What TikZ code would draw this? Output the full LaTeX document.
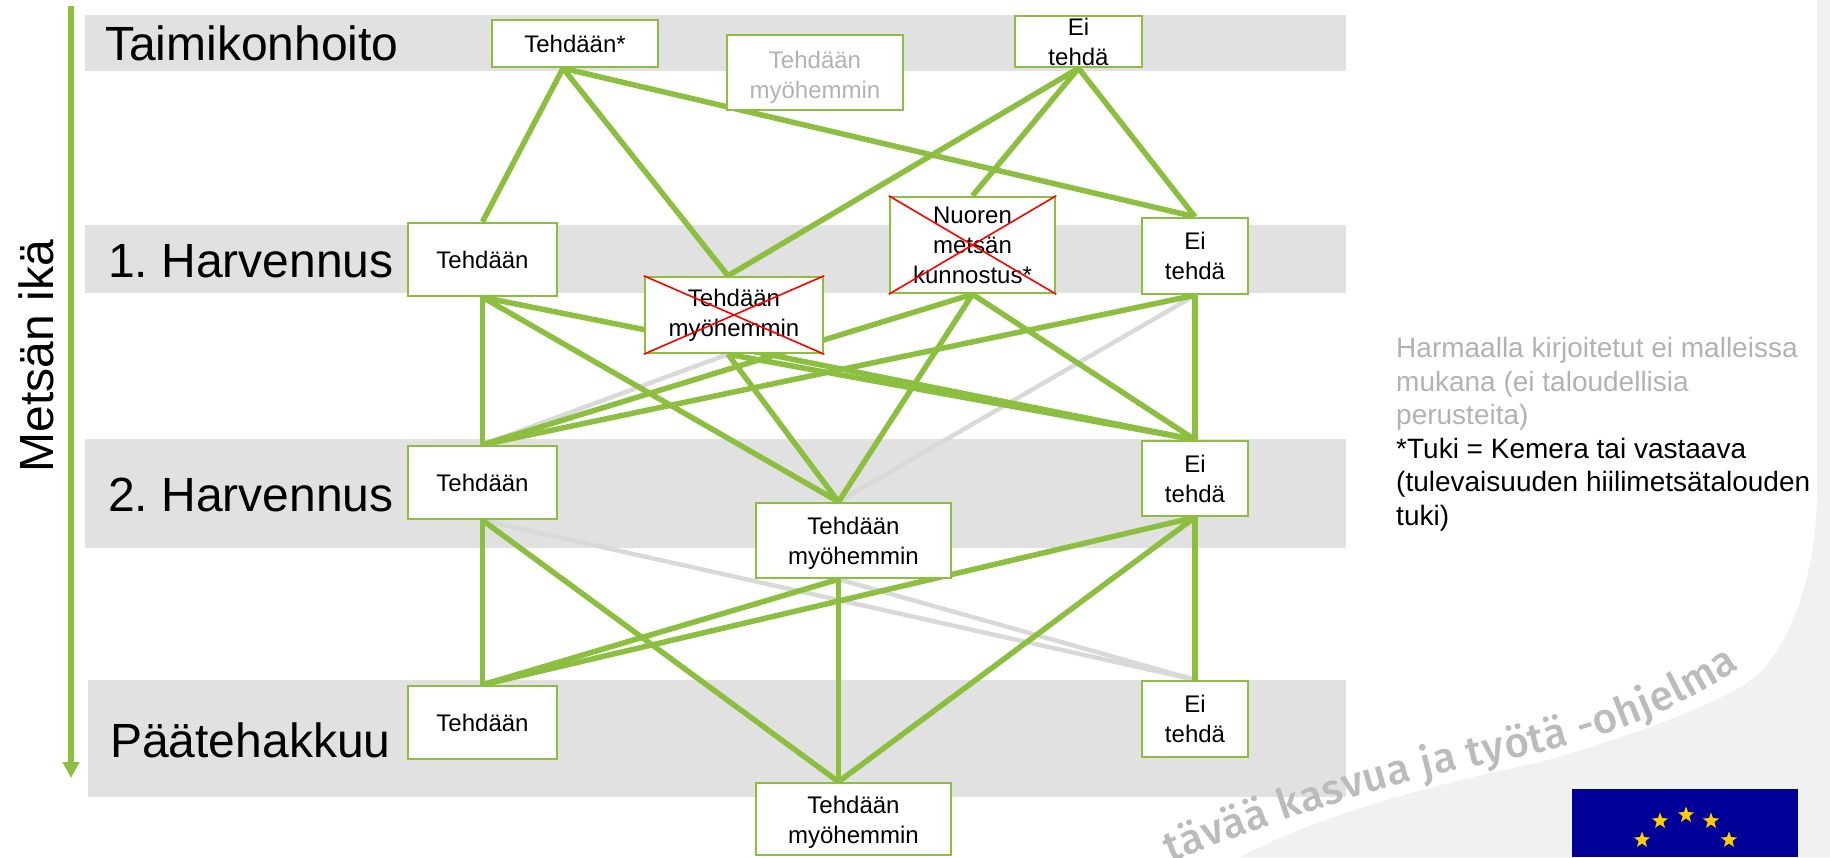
\documentclass[tikz,border=0pt]{standalone}
\usepackage{fontspec}
\setmainfont{Liberation Sans}
\newfontfamily\wmfont{Fira Sans Medium}
\usetikzlibrary{arrows.meta,shapes.geometric,decorations.text}

\definecolor{leaf}{HTML}{8CBF40}
\definecolor{bandgrey}{HTML}{E1E1E1}
\definecolor{pagegrey}{HTML}{F0F1F1}
\definecolor{linegrey}{HTML}{D9D9D9}
\definecolor{textgrey}{HTML}{B2B2B2}
\definecolor{markgrey}{HTML}{BBBBBB}
\definecolor{eublue}{HTML}{000099}
\definecolor{eugold}{HTML}{FFCC00}

\pgfdeclarelayer{backdrop}
\pgfdeclarelayer{links}
\pgfsetlayers{backdrop,links,main}

\tikzset{
	band/.style={fill=bandgrey},
	phase/.style={anchor=base west, inner sep=0pt, font=\fontsize{48}{56}\selectfont},
	choice/.style={draw=leaf, line width=2.5pt, fill=white, align=center, inner sep=0pt, font=\fontsize{24}{30}\selectfont},
	greychoice/.style={choice, text=textgrey},
	link/.style={draw=leaf, line width=5.5pt},
	greylink/.style={draw=linegrey, line width=4.5pt},
	redcross/.style={draw=red, line width=1.6pt},
	eustar/.style={star, star points=5, star point ratio=2.4, fill=eugold, minimum size=17pt, inner sep=0pt}
}

\frenchspacing
\begin{document}
\begin{tikzpicture}[x=1pt,y=-1pt]
	\useasboundingbox (0,0) rectangle (1830,857);

	\begin{pgfonlayer}{backdrop}
	% page corner
	\fill[pagegrey] (1817,0) -- (1817,500) .. controls (1815,570) and (1795,632) .. (1763,670)
		.. controls (1735,700) and (1620,740) .. (1537,763)
		.. controls (1430,785) and (1320,815) .. (1240,857) -- (1830,857) -- (1830,0) -- cycle;

	% bands
	\fill[band] (85,15) rectangle (1346,71);
	\fill[band] (85,225) rectangle (1346,293);
	\fill[band] (85,439) rectangle (1346,548);
	\fill[band] (88,680) rectangle (1346,797);

	% watermark
	\path[decorate, decoration={text along path, text align=fit to path,
		text={|\wmfont\fontsize{42}{42}\selectfont\color{markgrey}|tävää kasvua ja työtä -ohjelma}}]
		(1170,862) .. controls (1290,815) and (1400,780) .. (1513,758)
		.. controls (1590,743) and (1670,715) .. (1740,668);
	\end{pgfonlayer}

	% phases
	\node[phase] (taimi) at (105,60) {Taimikonhoito};
	\node[phase] (harv1) at (108,277) {1. Harvennus};
	\node[phase] (harv2) at (108,511) {2. Harvennus};
	\node[phase] (paate) at (110,757) {Päätehakkuu};

	% age axis
	\coordinate (agetop) at (71,6);
	\coordinate (agebot) at (71,778);
	\draw[leaf, line width=5.7pt, -{Triangle[length=16pt,width=16pt]}] (agetop) -- (agebot);
	\node[rotate=90, inner sep=0pt, font=\fontsize{48}{56}\selectfont] (age) at (36,356) {Metsän ikä};

	% boxes
	\node[choice, minimum width=166, minimum height=47] (t1) at (575,43.5) {Tehdään*};
	\node[greychoice, minimum width=176, minimum height=75] (t3) at (815,72.5) {\rule{0pt}{26pt}Tehdään\\myöhemmin};
	\node[choice, minimum width=127, minimum height=51] (t2) at (1078.5,41.5) {Ei\\tehdä};
	\node[choice, minimum width=149, minimum height=73] (a1) at (482.5,259.5) {Tehdään};
	\node[choice, minimum width=178, minimum height=76] (a2) at (734,315) {Tehdään\\myöhemmin};
	\node[choice, minimum width=165, minimum height=96] (a3) at (972.5,245) {Nuoren\\metsän\\kunnostus*};
	\node[choice, minimum width=106, minimum height=76] (a4) at (1195,256) {Ei\\tehdä};
	\node[choice, minimum width=149, minimum height=73] (b1) at (482.5,482.5) {Tehdään};
	\node[choice, minimum width=195, minimum height=75] (b2) at (853.5,540.5) {\rule{0pt}{22pt}Tehdään\\myöhemmin};
	\node[choice, minimum width=106, minimum height=75] (b3) at (1195,478.5) {Ei\\tehdä};
	\node[choice, minimum width=149, minimum height=73] (c1) at (482.5,722.5) {Tehdään};
	\node[choice, minimum width=195, minimum height=72] (c2) at (853.5,819) {\rule{0pt}{24pt}Tehdään\\myöhemmin};
	\node[choice, minimum width=106, minimum height=76] (c3) at (1195,719) {Ei\\tehdä};

	\begin{pgfonlayer}{links}
	% from Taimikonhoito
	\draw[link] ([xshift=-12pt]t1.south) -- (a1.north);
	\draw[link] ([xshift=-12pt]t1.south) -- ([xshift=-6pt]a2.north);
	\draw[link] ([xshift=-12pt]t1.south) -- (a4.north);
	\draw[link] (t2.south) -- ([xshift=-6pt]a2.north);
	\draw[link] (t2.south) -- (a3.north);
	\draw[link] (t2.south) -- (a4.north);

	% grey ones
	\draw[greylink] (b1.north) -- ([xshift=-6pt]a2.south);
	\draw[greylink] (a4.south) -- ([xshift=-15pt]b2.north);
	\draw[greylink] (b1.south) -- (c3.north);
	\draw[greylink] ([xshift=-15pt]b2.south) -- (c3.north);

	% from 1. Harvennus
	\draw[link] (a1.south) -- (b1.north);
	\draw[link] (a1.south) -- ([xshift=-15pt]b2.north);
	\draw[link] (a1.south) -- (b3.north);
	\draw[link] ([xshift=-6pt]a2.south) -- ([xshift=-15pt]b2.north);
	\draw[link] ([xshift=-6pt]a2.south) -- (b3.north);
	\draw[link] (a3.south) -- (b1.north);
	\draw[link] (a3.south) -- ([xshift=-15pt]b2.north);
	\draw[link] (a3.south) -- (b3.north);
	\draw[link] (a4.south) -- (b1.north);
	\draw[link] (a4.south) -- (b3.north);

	% from 2. Harvennus
	\draw[link] (b1.south) -- (c1.north);
	\draw[link] (b1.south) -- ([xshift=-15pt]c2.north);
	\draw[link] ([xshift=-15pt]b2.south) -- (c1.north);
	\draw[link] ([xshift=-15pt]b2.south) -- ([xshift=-15pt]c2.north);
	\draw[link] (b3.south) -- (c1.north);
	\draw[link] (b3.south) -- ([xshift=-15pt]c2.north);
	\draw[link] (b3.south) -- (c3.north);
	\end{pgfonlayer}

	% crossed out
	\draw[redcross] (a2.north west) -- (a2.south east);
	\draw[redcross] (a2.south west) -- (a2.north east);
	\draw[redcross] (a3.north west) -- (a3.south east);
	\draw[redcross] (a3.south west) -- (a3.north east);

	% note
	\node[anchor=north west, inner sep=0pt, align=left, font=\fontsize{28}{33.6}\selectfont] (note) at (1396,337)
		{\textcolor{textgrey}{Harmaalla kirjoitetut ei malleissa}\\
		\textcolor{textgrey}{mukana (ei taloudellisia}\\
		\textcolor{textgrey}{perusteita)}\\
		*Tuki = Kemera tai vastaava\\
		(tulevaisuuden hiilimetsätalouden\\
		tuki)};

	% flag
	\fill[eublue] (1572,789) rectangle (1798,857);
	\node[eustar] (s1) at (1686,815) {};
	\node[eustar] (s2) at (1660,821) {};
	\node[eustar] (s3) at (1711,821) {};
	\node[eustar] (s4) at (1642,840) {};
	\node[eustar] (s5) at (1729,840) {};
\end{tikzpicture}
\end{document}
